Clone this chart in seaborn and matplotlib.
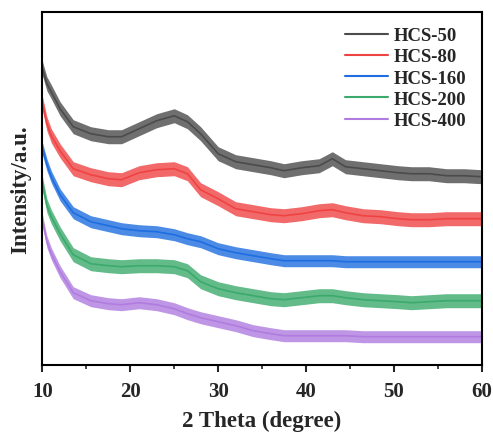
import matplotlib
matplotlib.use("Agg")
import matplotlib.pyplot as plt
import pandas as pd
import seaborn as sns
from matplotlib.ticker import MultipleLocator

# 2 theta positions (degree) and stacked intensities (offset, a.u.)
two_theta = [10, 10.5, 11, 12, 13.5, 15.5, 17.5, 19, 21, 23, 25, 26.5, 28, 30, 32,
             34, 36, 37.5, 39.5, 41.5, 43, 44.5, 46.5, 48.5, 50.5, 52, 54, 56, 58, 60]
hcs_50 = [296, 281, 273, 256, 238, 231, 228, 228, 236, 244, 249, 243, 231, 211, 203,
          200, 197, 194, 197, 199, 206, 198, 196, 194, 192, 191, 191, 189, 189, 188]
hcs_80 = [261, 241, 229, 214, 196, 190, 186, 185, 192, 195, 196, 191, 175, 166, 156,
          153, 150, 149, 151, 154, 155, 152, 149, 148, 146, 145, 145, 146, 146, 146]
hcs_160 = [216, 200, 188, 170, 152, 143, 139, 136, 134, 133, 130, 126, 123, 116, 112,
           109, 106, 104, 104, 104, 104, 103, 103, 103, 103, 103, 103, 103, 103, 103]
hcs_200 = [181, 159, 148, 131, 110, 101, 99, 98, 99, 99, 98, 94, 83, 76, 72,
           69, 66, 65, 67, 69, 69, 67, 65, 64, 63, 62, 63, 64, 64, 64]
hcs_400 = [144, 123, 111, 93, 72, 64, 61, 60, 62, 60, 56, 51, 47, 43, 39,
           34, 31, 29, 29, 29, 29, 29, 28, 28, 28, 28, 28, 28, 28, 28]

series_names = ["HCS-50", "HCS-80", "HCS-160", "HCS-200", "HCS-400"]
# approximate half-width of the noise band around each pattern
noise_halfwidth = [7, 7, 6, 7, 6]

palette = ["#4B4B4B", "#EF4343", "#1E6EE0", "#3BAA6C", "#B07CDF"]

sns.set_style("ticks")
plt.rcParams["font.family"] = ["Liberation Serif", "DejaVu Serif"]
plt.rcParams["font.weight"] = "bold"

frames = []
for name, values in zip(series_names, [hcs_50, hcs_80, hcs_160, hcs_200, hcs_400]):
    frames.append(pd.DataFrame({"two_theta": two_theta, "intensity": values, "sample": name}))
data = pd.concat(frames, ignore_index=True)

fig = plt.figure(figsize=(4.93, 4.35), dpi=100)
ax = fig.add_axes([0.0862, 0.1593, 0.8908, 0.8107])

for name, color, hw in zip(series_names, palette, noise_halfwidth):
    sub = data[data["sample"] == name]
    ax.fill_between(sub["two_theta"], sub["intensity"] - hw, sub["intensity"] + hw,
                    color=color, alpha=0.8, lw=0)

sns.lineplot(data=data, x="two_theta", y="intensity", hue="sample",
             hue_order=series_names, palette=palette, lw=1.2, ax=ax)

ax.set_xlim(10, 60)
ax.set_ylim(0, 352.7)
ax.set_yticks([])
ax.xaxis.set_major_locator(MultipleLocator(10))
ax.xaxis.set_minor_locator(MultipleLocator(5))
ax.tick_params(axis="x", which="major", direction="out", length=5, width=1.5,
               labelsize=15, pad=7)
ax.tick_params(axis="x", which="minor", direction="out", length=3, width=1.2)
for lab in ax.get_xticklabels():
    lab.set_fontweight("bold")
for side in ["left", "right", "top", "bottom"]:
    ax.spines[side].set_linewidth(1.5)
    ax.spines[side].set_color("black")

ax.set_xlabel("2 Theta (degree)", fontsize=16.5, fontweight="bold", labelpad=6)
ax.set_ylabel("Intensity/a.u.", fontsize=16.5, fontweight="bold", labelpad=8)

leg = ax.legend(loc="upper right", frameon=False, handlelength=2.3,
                handletextpad=0.3, labelspacing=0.22, borderaxespad=0.4,
                prop={"weight": "bold", "size": 13.5})
for line in leg.get_lines():
    line.set_linewidth(1.5)

fig.savefig("out.png", dpi=100)
